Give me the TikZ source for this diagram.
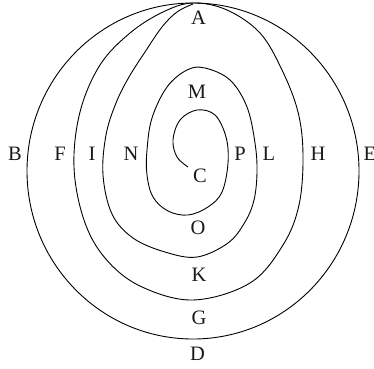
\documentclass[tikz,border=0pt]{standalone}
\usepackage{fontspec}
\setmainfont{Liberation Serif}
\begin{document}
\begin{tikzpicture}[x=1pt,y=-1pt,
  curve/.style={line width=0.9pt, black, line join=round},
  lbl/.style={inner sep=0pt, font=\fontsize{20.5}{22}\selectfont, text=black!90}]
\useasboundingbox (0,0) rectangle (374,368);
% outer circle
\draw[curve] (193,171) ellipse [x radius=166, y radius=168];
% F/H loop
\draw[curve] plot[smooth cycle, tension=0.6] coordinates {
  (193,3) (227,10) (260,33) (282,70) (298,112) (303,155) (299,205) (283,245)
  (250,283) (193,300) (140,286) (105,258) (84,220) (74,167) (80,112)
  (100,65) (130,33) (163,12)};
% spiral from C out to A
\draw[curve] plot[smooth, tension=0.6] coordinates {
  (188,167) (177,157) (173,140) (180,120) (197,110) (215,115) (226,137)
  (228,163) (222,192) (208,207) (188,215) (168,211) (153,197) (147,175)
  (147,150) (152,118) (167,87) (187,70) (205,68) (230,80) (247,107)
  (255,143) (257,172) (254,200) (245,222) (228,243) (197,257) (165,252)
  (133,238) (112,214) (103,175) (106,135) (116,103) (129,77) (145,52)
  (162,27) (177,12) (193,4)};
% labels
\node[lbl] (lA) at (198.5,17.5) {A};
\node[lbl] (lB) at (15,154) {B};
\node[lbl] (lF) at (60,154) {F};
\node[lbl] (lI) at (92,154) {I};
\node[lbl] (lN) at (131,154) {N};
\node[lbl] (lP) at (240,154) {P};
\node[lbl] (lL) at (269,154) {L};
\node[lbl] (lH) at (318,154) {H};
\node[lbl, anchor=west] (lE) at (363.5,154) {E};
\node[lbl] (lM) at (197,92) {M};
\node[lbl] (lC) at (200,175.5) {C};
\node[lbl] (lO) at (198,228) {O};
\node[lbl] (lK) at (199,275) {K};
\node[lbl] (lG) at (199,317.5) {G};
\node[lbl] (lD) at (197.5,354) {D};
\end{tikzpicture}
\end{document}
